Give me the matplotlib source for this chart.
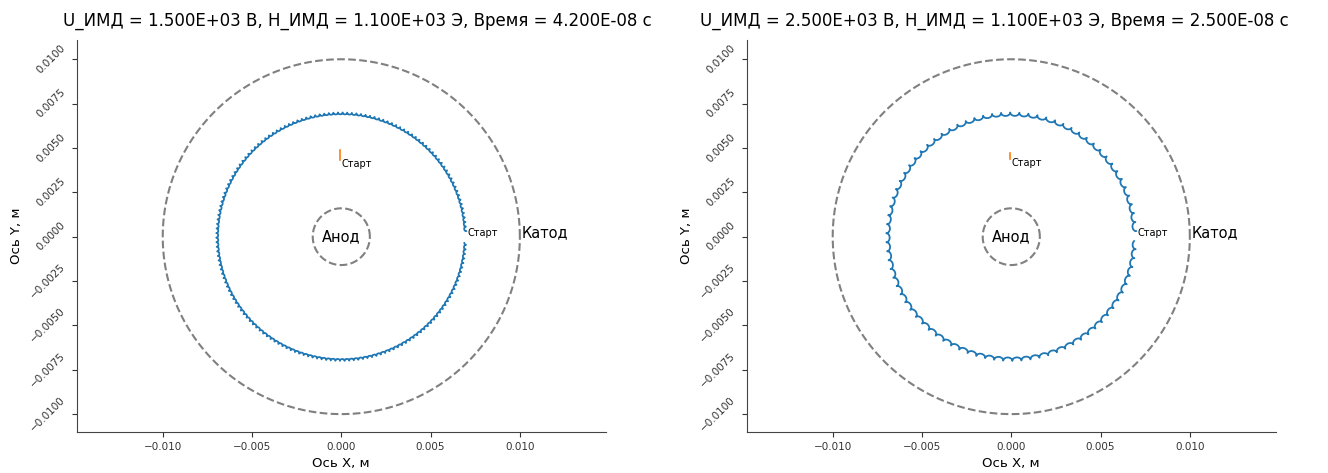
import numpy as np
import matplotlib
matplotlib.use("Agg")
import matplotlib.pyplot as plt

# Параметры расчёта (из заголовков)
titles = [
    "U_ИМД = 1.500E+03 В, H_ИМД = 1.100E+03 Э, Время = 4.200E-08 с",
    "U_ИМД = 2.500E+03 В, H_ИМД = 1.100E+03 Э, Время = 2.500E-08 с",
]

# Геометрия диода, м
R_ANODE = 0.0016
R_CATHODE = 0.0100

# Дрейфовая траектория электрона 1 (оценено по картинке)
drift_radius = [0.0070, 0.0070]   # внешний радиус дрейфа, м
n_loops = [170, 86]               # число петель циклоиды за оборот
loop_size = [1.25, 1.15]          # отношение радиуса вращения к "касповому"
start_angle = [0.045, 0.045]      # угол точки старта, рад
turn_fraction = [0.985, 0.985]    # доля пройденного оборота

# Траектория электрона 2 (короткий отрезок у оси Y)
e2_x = [[-0.00005, -0.00005], [-0.00005, -0.00005]]
e2_y = [[0.0049, 0.0043], [0.0047, 0.0044]]

XLIM = (-0.0148, 0.0148)
YLIM = (-0.0110, 0.0111)
yticks = [-0.01, -0.0075, -0.005, -0.0025, 0.0, 0.0025, 0.005, 0.0075, 0.01]
xticks = [-0.01, -0.005, 0.0, 0.005, 0.01]

fig = plt.figure(figsize=(13.28, 4.73), dpi=100)
ax_pos = [[0.058, 0.087, 0.398, 0.829], [0.5625, 0.087, 0.398, 0.829]]
title_x = [0.269, 0.749]

phi = np.linspace(0, 2 * np.pi, 400)

for i in range(2):
    ax = fig.add_axes(ax_pos[i])

    # электроды
    ax.plot(R_ANODE * np.cos(phi), R_ANODE * np.sin(phi), '--', color='gray', lw=1.5)
    ax.plot(R_CATHODE * np.cos(phi), R_CATHODE * np.sin(phi), '--', color='gray', lw=1.5)

    # траектория 1: ведущий центр по окружности + циклотронное вращение
    k = n_loops[i]
    a = loop_size[i] * drift_radius[i] / (k - 1)
    rc = drift_radius[i] - a
    th = np.linspace(0, 2 * np.pi * turn_fraction[i], k * 40)
    z = rc * np.exp(1j * th) + a * np.exp(1j * (1 - k) * th)
    z = z * np.exp(1j * start_angle[i])
    ax.plot(z.real, z.imag, color='#1f77b4', lw=1.3)
    ax.text(z.real[0] + 0.0001, z.imag[0] - 0.0003, "Старт", fontsize=7)

    # траектория 2
    ax.plot(e2_x[i], e2_y[i], color='#ff7f0e', lw=1.2)
    ax.text(e2_x[i][1] + 0.00005, e2_y[i][1] - 0.0004, "Старт", fontsize=7)

    ax.text(0, 0, "Анод", ha='center', va='center', fontsize=10.5)
    ax.text(R_CATHODE + 0.0001, 0.0002, "Катод", ha='left', va='center', fontsize=10.5)

    ax.set_xlim(XLIM)
    ax.set_ylim(YLIM)
    ax.set_xticks(xticks)
    ax.set_yticks(yticks)
    ax.set_xticklabels([f"{t:.3f}".replace('-', '\u2212') for t in xticks])
    ax.set_yticklabels([f"{t:.4f}".replace('-', '\u2212') for t in yticks],
                       rotation=45, va='center')
    ax.tick_params(labelsize=7.5, colors='#333333')
    ax.set_xlabel("Ось X, м", fontsize=9.5)
    ax.set_ylabel("Ось Y, м", fontsize=9.5)
    ax.spines['top'].set_visible(False)
    ax.spines['right'].set_visible(False)
    for s in ('left', 'bottom'):
        ax.spines[s].set_color('#444444')

    fig.text(title_x[i], 0.955, titles[i], ha='center', va='center', fontsize=12)

fig.savefig("out.png", dpi=100)
